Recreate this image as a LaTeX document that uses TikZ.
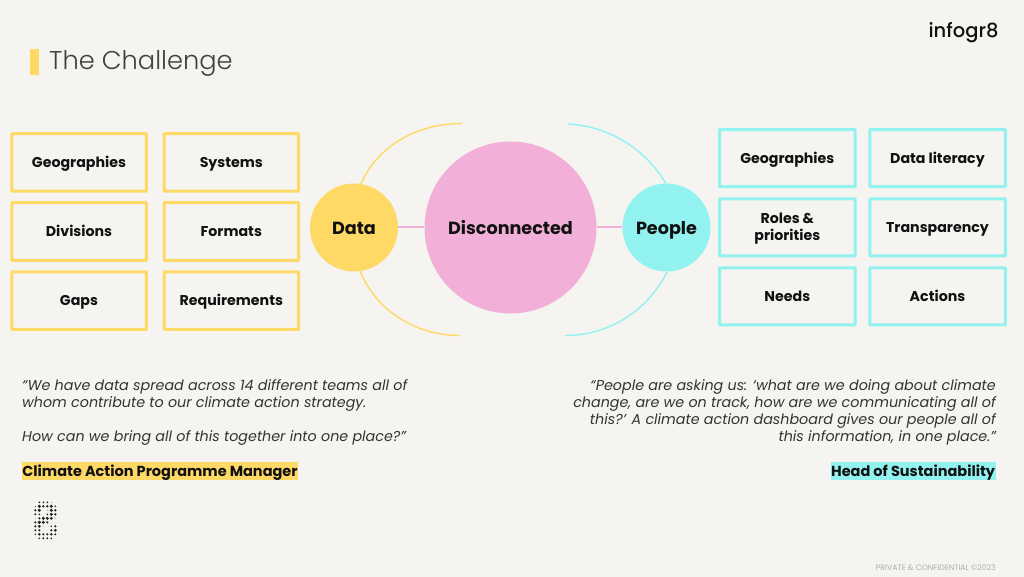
\documentclass[tikz,border=0pt]{standalone}
\usepackage{fontspec}
\setmainfont{Poppins}
\definecolor{bg}{HTML}{F5F4F0}
\definecolor{ylw}{HTML}{FFD966}
\definecolor{cyn}{HTML}{92F2F0}
\definecolor{pnk}{HTML}{F2B0D9}
\definecolor{ink}{HTML}{111111}
\tikzset{
 px/.style={x=1pt,y=-1pt},
 box/.style={draw,line width=3pt,rounded corners=0.6pt,align=center,inner sep=0pt,font=\fontsize{14.2}{17}\selectfont\bfseries,text=ink},
 lab/.style={text height=13pt,text depth=3pt},
 ybox/.style={box,draw=ylw,minimum width=134.5pt,minimum height=57.5pt},
 cbox/.style={box,draw=cyn,minimum width=135.5pt,minimum height=57pt},
 hub/.style={circle,inner sep=0pt,font=\fontsize{17.6}{20}\selectfont\bfseries,text=ink,text height=16pt,text depth=3pt},
 link/.style={draw=pnk,line width=2pt},
 yarc/.style={draw=ylw,line width=1.4pt},
 carc/.style={draw=cyn,line width=1.4pt},
 quote/.style={inner sep=0pt,font=\fontsize{14.3}{17}\selectfont\itshape,text=black!80},
 who/.style={inner sep=0pt,font=\fontsize{14.5}{16}\selectfont\bfseries,text=ink,minimum height=17.7pt,text height=14pt,text depth=2.6pt},
}
\begin{document}
\begin{tikzpicture}[px]
\useasboundingbox (0,0) rectangle (1024,577);
\fill[bg] (0,0) rectangle (1024,577);
\fill[ylw] (30,49.5) rectangle (39,75);
\node[anchor=base west,inner sep=0pt,font=\fontsize{25.7}{30}\selectfont\fontspec{Poppins Light},text=black!75] (title) at (49,70) {The Challenge};
\node[anchor=base,inner sep=0pt,font=\fontsize{19.5}{24}\selectfont\fontspec{Poppins Medium},text=ink] (logo) at (963.5,37.2) {infogr8};
% boxes left
\node[ybox,lab] (g1) at (79,162.5) {Geographies};
\node[ybox,lab] (s1) at (231.3,162.5) {Systems};
\node[ybox,lab] (d1) at (79,231.5) {Divisions};
\node[ybox,lab] (f1) at (231.3,231.5) {Formats};
\node[ybox,lab] (g2) at (79,300.5) {Gaps};
\node[ybox,lab] (r1) at (231.3,300.5) {Requirements};
% boxes right
\node[cbox,lab] (g3) at (787.3,158.2) {Geographies};
\node[cbox,lab] (l1) at (937.5,158.2) {Data literacy};
\node[cbox] (r2) at (787.3,227.3) {\rule{0pt}{14pt}Roles \&\\priorities};
\node[cbox,lab] (t1) at (937.5,227.3) {Transparency};
\node[cbox,lab] (n1) at (787.3,296.3) {Needs};
\node[cbox,lab] (a1) at (937.5,296.3) {Actions};
% hubs
\node[hub,fill=pnk,minimum size=172pt] (dis) at (510.5,227.5) {Disconnected};
\node[hub,fill=ylw,minimum size=88pt] (data) at (354,227.5) {Data};
\node[hub,fill=cyn,minimum size=88pt] (people) at (666.5,227.5) {People};
\draw[link] (data) -- (dis);
\draw[link] (dis) -- (people);
% arcs
\coordinate (yt) at (462,123.5);
\coordinate (yb) at (459.5,335.5);
\coordinate (ct) at (567.5,124);
\coordinate (cb) at (565,335.5);
\draw[yarc] (data.81) .. controls (378,145) and (418,123.5) .. (yt);
\draw[yarc] (data.-82) .. controls (376,310) and (415,335.5) .. (yb);
\draw[carc] (people.91) .. controls (646,150) and (610,126) .. (ct);
\draw[carc] (people.-89) .. controls (648,310) and (610,335.5) .. (cb);
% quotes
\node[quote,anchor=north west,align=left] (q1) at (22,379.3) {“We have data spread across 14 different teams all of\\whom contribute to our climate action strategy.\\[17pt]How can we bring all of this together into one place?”};
\node[quote,anchor=north east,align=right] (q2) at (996,379.3) {“People are asking us: ‘what are we doing about climate\\change, are we on track, how are we communicating all of\\this?’ A climate action dashboard gives our people all of\\this information, in one place.”};
\node[who,anchor=west,fill=ylw,minimum width=275.5pt] (w1) at (22,471.2) {Climate Action Programme Manager};
\node[who,anchor=east,fill=cyn,minimum width=164.7pt] (w2) at (995.7,471.2) {Head of Sustainability};
\node[anchor=base east,inner sep=0pt,font=\fontsize{7.8}{9}\selectfont,text=black!32] (pc) at (996,570.3) {PRIVATE \& CONFIDENTIAL ©2023};
% dotted mark
\foreach \r/\row in {0/{0,.9,.9,.9,.3,0},1/{.5,1.5,1.2,1.2,1.5,.8},2/{1.1,1.5,0,.3,1.5,1.2},3/{1,.9,0,.9,1.5,1.2},4/{.3,1.1,1.5,1.5,1.4,.3},5/{1.1,1.6,1.5,1.1,0,0},6/{1.1,1.4,.3,0,.8,1.1},7/{1,1.1,0,0,1.1,1.4},8/{.7,1.3,1.1,1.1,1.3,1},9/{0,.8,1,1,.9,0}}{
 \foreach \v [count=\c from 0] in \row {
  \fill[black!85] ({35.3+4*\c},{502.3+4*\r}) circle[radius=\v*1.1pt];
 }
}
\end{tikzpicture}
\end{document}
